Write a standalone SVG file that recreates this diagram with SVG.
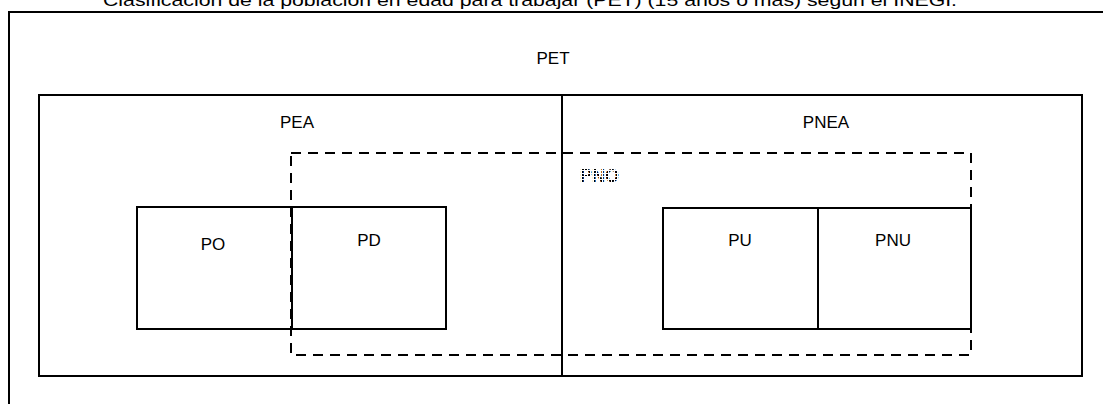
<svg xmlns="http://www.w3.org/2000/svg" width="1103" height="404" viewBox="0 0 1103 404">
<style>
.box{fill:none;stroke:#000;stroke-width:2}
.dash{fill:none;stroke:#000;stroke-width:2;stroke-dasharray:10 7}
.lbl{font-family:"Liberation Sans",Arial,sans-serif;font-size:17px;fill:#000;text-anchor:middle}
</style>
<defs>
<pattern id="dots" width="3" height="3" patternUnits="userSpaceOnUse">
<rect x="0" y="0" width="2" height="2" fill="#000"/>
</pattern>
</defs>
<rect width="1103" height="404" fill="#fff"/>
<text class="lbl" x="530" y="6" textLength="854" lengthAdjust="spacingAndGlyphs">Clasificación de la población en edad para trabajar (PET) (15 años o más) según el INEGI.</text>
<g id="pet">
<rect class="box" x="9" y="12" width="1110" height="420"/>
<text class="lbl" x="553" y="64">PET</text>
</g>
<g id="pea">
<rect class="box" x="39" y="95" width="523" height="281"/>
<text class="lbl" x="297" y="128">PEA</text>
</g>
<g id="pnea">
<rect class="box" x="562" y="95" width="520" height="281"/>
<text class="lbl" x="826" y="128">PNEA</text>
</g>
<g id="pno">
<rect class="dash" x="291" y="153" width="680" height="202"/>
<text x="580" y="182" font-family="Liberation Sans,Arial,sans-serif" font-size="18" font-weight="bold" fill="url(#dots)">PNO</text>
</g>
<g id="po">
<rect class="box" x="137" y="207" width="155" height="122"/>
<text class="lbl" x="213" y="250">PO</text>
</g>
<g id="pd">
<rect class="box" x="292" y="207" width="154" height="122"/>
<text class="lbl" x="369" y="246">PD</text>
</g>
<g id="pu">
<rect class="box" x="663" y="208" width="155" height="121"/>
<text class="lbl" x="740" y="246">PU</text>
</g>
<g id="pnu">
<rect class="box" x="818" y="208" width="153" height="121"/>
<text class="lbl" x="893" y="246">PNU</text>
</g>
<g id="connectors"></g>
</svg>
